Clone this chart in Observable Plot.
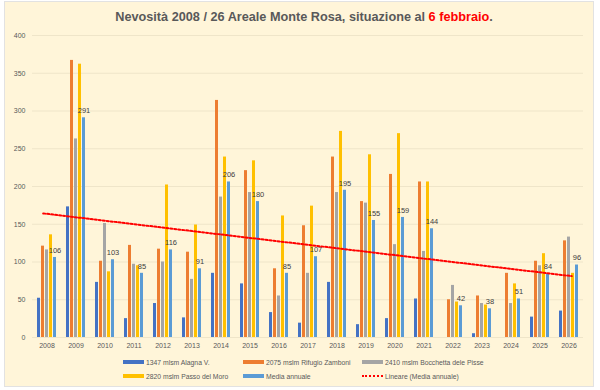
<!DOCTYPE html>
<html><head><meta charset="utf-8">
<script src="https://cdn.jsdelivr.net/npm/d3@7"></script>
<script src="https://cdn.jsdelivr.net/npm/@observablehq/plot@0.6"></script>
<style>
body{margin:0;width:600px;height:390px;background:#fff;position:relative;overflow:hidden;font-family:"Liberation Sans",Arial,sans-serif}
#frame{position:absolute;left:4px;top:1px;width:588px;height:384px;background:#fff5d9;border:1px solid #e2e2e2}
#title{position:absolute;left:0;top:10px;width:608px;text-align:center;font-weight:bold;font-size:12.7px;color:#595959;white-space:nowrap}
#title span{color:#ff0000}
.layer{position:absolute;left:0;top:0}
#legend{position:absolute;left:0;top:0;width:600px;height:390px;font-size:6.8px;color:#595959}
.item{position:absolute;display:flex;align-items:center;white-space:nowrap}
.sw{width:21px;height:4px;margin-right:2px}
.dot{width:21px;height:0;border-top:2px dotted #ff0000;margin-right:2px}
</style></head>
<body>
<div id="frame"></div>
<div id="title">Nevosità 2008 / 26 Areale Monte Rosa, situazione al <span>6 febbraio</span>.</div>
<div id="chart" class="layer"></div>
<div id="trend" class="layer"></div>
<div id="legend"></div>
<script>
const years = ["2008","2009","2010","2011","2012","2013","2014","2015","2016","2017","2018","2019","2020","2021","2022","2023","2024","2025","2026"];
const seriesNames = ["1347 mlsm Alagna V.","2075 mslm Rifugio Zamboni","2410 mslm Bocchetta dele Pisse","2820 mslm Passo del Moro","Media annuale"];
const colors = ["#4472c4","#ed7d31","#a5a5a5","#ffc000","#5b9bd5"];
const alagna    = [52,173,73,25,45,26,85,71,33,19,73,17,25,51,0,5,0,27,35];
const zamboni   = [121,367,101,122,117,113,314,221,91,148,239,180,216,206,50,55,85,101,128];
const bocchetta = [116,263,151,97,100,77,186,192,55,85,192,178,123,114,69,45,45,95,133];
const moro      = [136,362,87,95,202,149,239,234,161,174,273,242,270,206,47,43,71,111,85];
const media     = [106,291,103,85,116,91,206,180,85,107,195,155,159,144,42,38,51,84,96];
const yTicks = [0,50,100,150,200,250,300,350,400];
const trendLabel = "Lineare (Media annuale)";

const seriesValues = [alagna, zamboni, bocchetta, moro, media];
const rows = years.flatMap((yr, i) => seriesNames.map((s, k) => ({year: yr, series: s, value: seriesValues[k][i]})));
const mediaRows = rows.filter(d => d.series === "Media annuale");
const trendRows = years.map((yr, i) => ({year: +yr, media: media[i]}));

const W = 600, H = 390, ML = 28, MR = 14, MT = 35, MB = 53;
const font = '"Liberation Sans",Arial,sans-serif';

const chart = Plot.plot({
  width: W, height: H, marginLeft: ML, marginRight: MR, marginTop: MT, marginBottom: MB,
  style: {background: "transparent", fontFamily: font, fontSize: "7px", color: "#595959"},
  fx: {domain: years, padding: 0, label: null, tickSize: 0, tickPadding: 6},
  x: {domain: seriesNames, paddingInner: 0.22, paddingOuter: 0.87, axis: null},
  y: {domain: [0, 400], ticks: yTicks, label: null, tickSize: 0, tickPadding: 7},
  color: {domain: seriesNames, range: colors},
  marks: [
    Plot.ruleY(yTicks, {stroke: "#efe5c9", strokeWidth: 1}),
    Plot.barY(rows, {fx: "year", x: "series", y: "value", fill: "series"}),
    Plot.text(mediaRows, {fx: "year", x: "series", y: "value", text: "value", dy: -7, fill: "#404040", fontSize: 7.5})
  ]
});
document.getElementById("chart").appendChild(chart);

const trend = Plot.plot({
  width: W, height: H, marginLeft: ML, marginRight: MR, marginTop: MT, marginBottom: MB,
  style: {background: "transparent"},
  x: {domain: [2007.5, 2026.5], axis: null},
  y: {domain: [0, 400], axis: null},
  marks: [
    Plot.linearRegressionY(trendRows, {x: "year", y: "media", stroke: "#ff0000", strokeWidth: 2, strokeDasharray: "2,2", ci: 0})
  ]
});
document.getElementById("trend").appendChild(trend);

const legendItems = [
  {label: seriesNames[0], color: colors[0], left: 123, top: 362},
  {label: seriesNames[1], color: colors[1], left: 243, top: 362},
  {label: seriesNames[2], color: colors[2], left: 362, top: 362},
  {label: seriesNames[3], color: colors[3], left: 123, top: 376},
  {label: seriesNames[4], color: colors[4], left: 243, top: 376},
  {label: trendLabel, color: null, left: 362, top: 376}
];
const leg = document.getElementById("legend");
legendItems.forEach(it => {
  const d = document.createElement("div");
  d.className = "item";
  d.style.left = it.left + "px";
  d.style.top = (it.top - 5) + "px";
  d.style.height = "10px";
  const s = document.createElement("div");
  if (it.color) { s.className = "sw"; s.style.background = it.color; } else { s.className = "dot"; }
  d.appendChild(s);
  const t = document.createElement("span");
  t.textContent = it.label;
  d.appendChild(t);
  leg.appendChild(d);
});
</script>
</body></html>
